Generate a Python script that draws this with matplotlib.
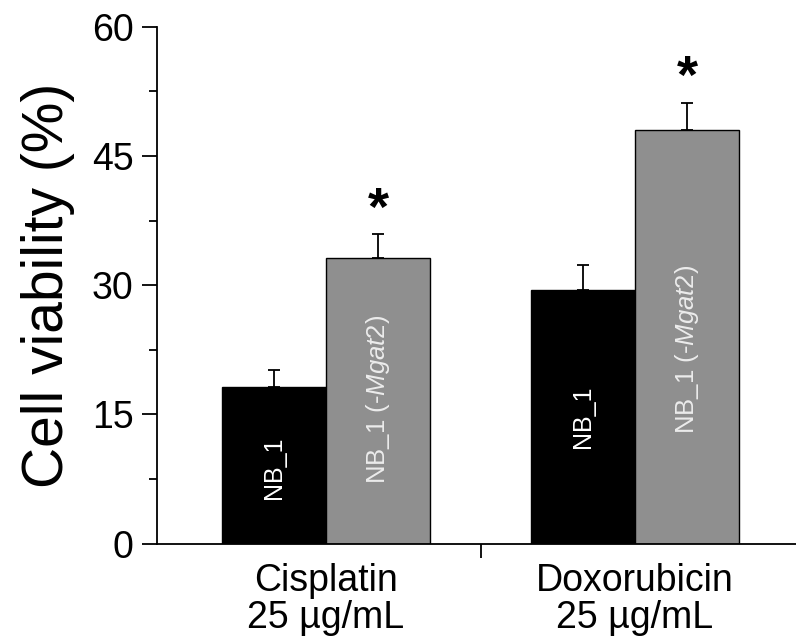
import numpy as np
import matplotlib
matplotlib.use("Agg")
import matplotlib.pyplot as plt

plt.rcParams['font.family'] = ['Liberation Sans', 'DejaVu Sans']
plt.rcParams['mathtext.fontset'] = 'custom'
plt.rcParams['mathtext.it'] = 'Liberation Sans:italic'
plt.rcParams['mathtext.rm'] = 'Liberation Sans'

# data
groups = ["Cisplatin\n25 \u00b5g/mL", "Doxorubicin\n25 \u00b5g/mL"]
nb1_mean = [18.2, 29.5]
nb1_err = [1.9, 2.9]
mgat2_mean = [33.1, 48.0]
mgat2_err = [2.8, 3.2]
series_names = ["NB_1", r"NB_1 (-$\mathit{Mgat2}$)"]
significant = [True, True]

# where the in-bar labels sit (y, data units)
nb1_label_y = [8.8, 14.7]
mgat2_label_y = [16.8, 22.6]

fig = plt.figure(figsize=(7.96, 6.38), dpi=100)
ax = fig.add_axes([157 / 796, 1 - 543.6 / 638, (796 - 157) / 796, (543.6 - 26.8) / 638])

x = np.arange(1, len(groups) + 1)
w = 0.338

ax.bar(x - w / 2, nb1_mean, w, color='black', edgecolor='black', linewidth=1.0, zorder=2)
ax.bar(x + w / 2, mgat2_mean, w, color='#8f8f8f', edgecolor='black', linewidth=1.0, zorder=2)
ax.errorbar(x - w / 2, nb1_mean, yerr=[np.zeros(len(x)), nb1_err], fmt='none',
            ecolor='black', elinewidth=1.3, capsize=4.5, capthick=1.3, zorder=1)
ax.errorbar(x + w / 2, mgat2_mean, yerr=[np.zeros(len(x)), mgat2_err], fmt='none',
            ecolor='black', elinewidth=1.3, capsize=4.5, capthick=1.3, zorder=1)

for i in range(len(x)):
    ax.text(x[i] - w / 2, nb1_label_y[i], series_names[0], rotation=90, color='white',
            fontsize=18, ha='center', va='center', zorder=3)
    ax.text(x[i] + w / 2, mgat2_label_y[i], series_names[1], rotation=90, color='#ececec',
            fontsize=18.5, ha='center', va='center', zorder=3)
    if significant[i]:
        ax.text(x[i] + w / 2, mgat2_mean[i] + mgat2_err[i] + 3.4, "*", fontsize=39,
                fontweight='bold', ha='center', va='center_baseline', zorder=3)

ax.set_xlim(0.453, 2.521)
ax.set_ylim(0, 60)
ax.set_yticks([0, 15, 30, 45, 60])
ax.set_yticks(np.arange(7.5, 60, 15), minor=True)
ax.set_xticks(x)
ax.set_xticklabels(groups, fontsize=27, linespacing=1.05)
ax.set_xticks([1.5], minor=True)
ax.tick_params(axis='x', which='major', length=0, pad=14)
ax.tick_params(axis='x', which='minor', length=10, width=1.3, direction='out')
ax.tick_params(axis='y', which='major', length=11, width=1.3, labelsize=27, pad=6)
ax.tick_params(axis='y', which='minor', length=6, width=1.3)
ax.set_ylabel("Cell viability (%)", fontsize=41, labelpad=12)

for s in ['top', 'right']:
    ax.spines[s].set_visible(False)
for s in ['left', 'bottom']:
    ax.spines[s].set_linewidth(1.3)

fig.savefig("out.png", dpi=100)
